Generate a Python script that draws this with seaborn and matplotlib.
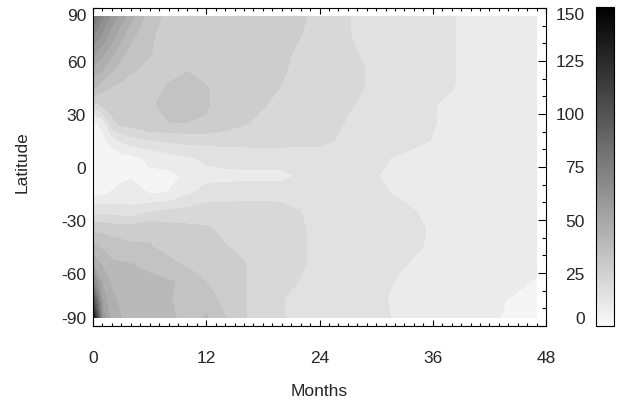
import numpy as np
import matplotlib
matplotlib.use("Agg")
import matplotlib as mpl
import matplotlib.pyplot as plt
import seaborn as sns
from matplotlib.colors import LinearSegmentedColormap, Normalize
from matplotlib.ticker import MultipleLocator

# Sample times (months) and latitude rows of the gridded field
months = [0, 1, 2, 3, 4, 6, 8, 10, 12, 14, 16, 18, 20, 22, 24, 27, 30, 33, 36, 39, 42, 45, 47]
latitudes = [85, 75, 65, 55, 45, 35, 25, 15, 5, -5, -15, -25, -35, -45, -55, -65, -75, -85]

# Field values, one list per latitude row (same order as `months`)
lat_p85 = [80, 67, 58, 51, 44, 33, 28, 27.5, 27, 27, 27, 27, 26.5, 25, 22, 18.2, 16, 15, 14, 11.5, 10, 9, 9]
lat_p75 = [67, 59, 51, 44, 38, 30.8, 28, 28, 27.5, 27, 27, 26.5, 26, 24.1, 22, 18.2, 16, 15, 14, 11.5, 10, 9, 9]
lat_p65 = [56, 50, 44, 38, 34, 30.3, 28, 28.5, 28, 27.5, 27, 26.5, 25.2, 23, 22, 18.8, 16.5, 15, 14, 11.5, 10, 9, 9]
lat_p55 = [46, 42, 37, 33, 30.5, 29, 28.5, 29.7, 28, 27.5, 26.5, 26, 24.6, 22.5, 22, 19.5, 17, 15, 14, 11.5, 10, 9, 9]
lat_p45 = [38, 32, 29.5, 28.5, 28, 28, 30.5, 33, 30.3, 28, 26.5, 25.5, 23.8, 22, 22, 19.5, 17, 15, 13.8, 11.5, 10, 9, 9]
lat_p35 = [21, 24.5, 27, 28, 28, 29, 32, 33, 30.4, 28, 26, 24.3, 22.8, 21.5, 22, 18.5, 16, 15, 12.2, 10.5, 10, 9, 9]
lat_p25 = [4, 8, 22, 26, 27, 29.8, 29.9, 29.9, 29.5, 27, 24.6, 22.5, 21, 20.5, 21, 17.5, 15, 15, 12.3, 10, 9.5, 9, 9]
lat_p15 = [3, 4, 8, 13, 15, 17.5, 19, 20, 20, 20, 20, 20, 19.8, 19.5, 19, 17, 14, 14, 11.8, 10, 9.5, 9, 9]
lat_p05 = [2, 2, 2.5, 3, 4, 7, 9, 11, 13, 14, 14.5, 15, 15, 15, 16, 15, 13, 11, 10, 9.5, 9, 9, 9]
lat_m05 = [2, 2, 3, 4.5, 5.5, 5, 4.5, 6.8, 10.5, 10.5, 10.5, 10.5, 10.5, 12.8, 14.5, 14, 12.2, 10, 9.5, 9, 9, 9, 9]
lat_m15 = [5, 5, 6.5, 8, 8, 5.8, 6.2, 11, 14, 14.5, 15, 15, 15, 14.5, 15, 15, 13, 11, 10, 9, 9, 9, 9]
lat_m25 = [16, 16, 15, 14.5, 14, 17, 19, 20, 21.5, 21.5, 21.5, 21.5, 21, 18, 16, 16, 14, 13, 10.5, 9.5, 9, 9, 9]
lat_m35 = [28, 28, 27.5, 27, 27, 29, 26.5, 25.5, 24.5, 23, 22.5, 22, 20, 18.4, 17, 16, 14.5, 13.5, 11.5, 10, 9.5, 9, 9]
lat_m45 = [38, 35, 33, 32, 31, 30.3, 28, 27, 26.5, 24.2, 23, 22.5, 20, 18.4, 17, 16, 14.5, 13, 11.5, 10, 9.5, 9, 9]
lat_m55 = [47, 41, 37, 36.5, 36.2, 34, 31.5, 29, 27, 25.5, 24.2, 22, 20, 18.4, 17, 16, 14, 12.2, 10, 9.5, 8.5, 7.5, 6.8]
lat_m65 = [68, 47, 41, 40, 39, 38, 36.5, 35, 30, 27, 24.5, 21, 19, 17.8, 16, 15.5, 13.5, 11, 9.5, 8, 7.5, 6.5, 5.7]
lat_m75 = [100, 52, 43, 41, 40.5, 40, 37, 31, 33, 28, 24.5, 20.5, 18.2, 16.5, 15, 14.5, 13, 10.5, 9, 7.5, 6.6, 5.6, 4.5]
lat_m85 = [140, 58, 44, 42, 41, 40, 38, 33, 36.5, 30, 24.5, 21, 18.5, 16, 15, 14, 13, 11, 10, 9, 7, 4.5, 3.5]

field = np.array([lat_p85, lat_p75, lat_p65, lat_p55, lat_p45, lat_p35, lat_p25, lat_p15, lat_p05,
                  lat_m05, lat_m15, lat_m25, lat_m35, lat_m45, lat_m55, lat_m65, lat_m75, lat_m85])

x_ticks = [0, 12, 24, 36, 48]
y_ticks = [-90, -60, -30, 0, 30, 60, 90]
cbar_ticks = [0, 25, 50, 75, 100, 125, 150]

sns.set_style("ticks")
plt.rcParams["font.family"] = ["Liberation Sans", "DejaVu Sans"]
plt.rcParams["axes.unicode_minus"] = False
text_color = "#262626"

W, H = 619, 406
fig = plt.figure(figsize=(W / 100, H / 100), dpi=100)
ax = fig.add_axes([93 / W, 1 - 327 / H, 453 / W, 318 / H])

cmap = LinearSegmentedColormap.from_list("grey_ramp", ["#fafafa", "#000000"])
norm = Normalize(vmin=0, vmax=150)
levels = np.arange(0, 151, 6)
ax.contourf(months, latitudes, field, levels=levels, cmap=cmap, norm=norm)

ax.set_xlim(0, 48)
ax.set_ylim(-90, 90)
ax.set_xticks(x_ticks)
ax.set_yticks(y_ticks)
ax.xaxis.set_minor_locator(MultipleLocator(1))
ax.yaxis.set_minor_locator(MultipleLocator(10))
ax.tick_params(axis="both", which="both", direction="in", top=True, right=True,
               color="black", width=0.8, labelsize=12.5, labelcolor=text_color)
ax.tick_params(axis="x", which="major", length=4.5, pad=17)
ax.tick_params(axis="x", which="minor", length=2.2)
ax.tick_params(axis="y", which="major", length=6, pad=5)
ax.tick_params(axis="y", which="minor", length=3)
for s in ax.spines.values():
    s.set_linewidth(0.8)
    s.set_color("black")

ylabels = ax.get_yticklabels()
ylabels[0].set_va("bottom")
ylabels[-1].set_va("top")

ax.set_xlabel("Months", fontsize=12.5, color=text_color)
ax.set_ylabel("Latitude", fontsize=12.5, color=text_color)
ax.xaxis.set_label_coords(0.5, -0.18)
ax.yaxis.set_label_coords(-0.14, 0.52)

cax = fig.add_axes([596 / W, 1 - 327 / H, 18 / W, 319 / H])
cb = fig.colorbar(mpl.cm.ScalarMappable(norm=norm, cmap=cmap), cax=cax)
cb.set_ticks(cbar_ticks)
cb.ax.yaxis.set_minor_locator(MultipleLocator(12.5))
cb.outline.set_linewidth(0.8)
cb.outline.set_edgecolor("black")
cax.tick_params(axis="y", which="both", direction="in", left=True, right=True,
                labelleft=True, labelright=False, color="black", width=0.8,
                labelsize=12.5, labelcolor=text_color, pad=8)
cax.tick_params(axis="y", which="major", length=3)
cax.tick_params(axis="y", which="minor", length=1.8)
clabels = cax.get_yticklabels()
clabels[0].set_va("bottom")
clabels[-1].set_va("top")

fig.savefig("out.png", dpi=100)
